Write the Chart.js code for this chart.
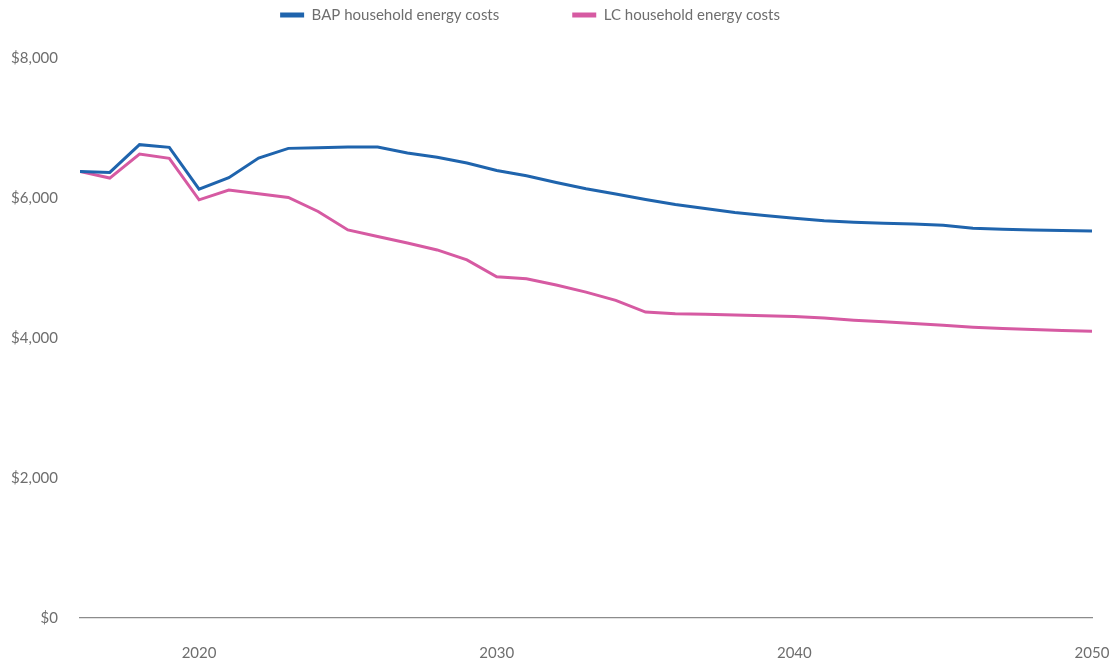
<!DOCTYPE html>
<html><head><meta charset="utf-8">
<script src="https://cdn.jsdelivr.net/npm/chart.js@4"></script>
<style>html,body{margin:0;padding:0;background:#fff;overflow:hidden;}</style>
</head><body>
<canvas id="c" width="1114" height="661"></canvas>
<script>
const years = [2016,2017,2018,2019,2020,2021,2022,2023,2024,2025,2026,2027,2028,2029,2030,2031,2032,2033,2034,2035,2036,2037,2038,2039,2040,2041,2042,2043,2044,2045,2046,2047,2048,2049,2050];
const bapCosts = [6380,6366,6762,6724,6127,6289,6571,6709,6719,6729,6729,6643,6583,6500,6394,6318,6222,6132,6056,5979,5907,5850,5793,5750,5712,5675,5654,5640,5630,5611,5568,5554,5544,5535,5530];
const lcCosts = [6380,6285,6629,6566,5974,6113,6060,6007,5807,5544,5450,5358,5258,5115,4875,4847,4756,4656,4537,4370,4345,4341,4327,4317,4308,4285,4255,4231,4207,4183,4155,4136,4122,4107,4097];
const xTickValues = [2020,2030,2040,2050];
const yTickValues = [0,2000,4000,6000,8000];
const seriesNames = ['BAP household energy costs','LC household energy costs'];

Chart.defaults.font.family = 'Lato, "Open Sans", sans-serif';
Chart.defaults.font.size = 15;
Chart.defaults.color = '#6e6e6e';

const LEG_PAD = 73;
const legendPatch = {
  id: 'legendPatch',
  beforeUpdate(chart) {
    const lg = chart.legend;
    if (lg && !lg._patched) {
      lg._patched = true;
      const proto = Object.getPrototypeOf(lg);
      lg.fit = function() { proto.fit.call(this); this.height = 58; };
    }
  },
  afterLayout(chart) {
    const lg = chart.legend;
    if (!lg) return;
    lg.left = -27; lg.right = 1087;
    lg.top = 7.5 - LEG_PAD;
  }
};

new Chart(document.getElementById('c'), {
  type: 'line',
  data: {
    datasets: [
      { label: seriesNames[0], data: years.map((y,i)=>({x:y,y:bapCosts[i]})), borderColor: '#1f64ad', backgroundColor: '#1f64ad', borderWidth: 3, pointRadius: 0, tension: 0 },
      { label: seriesNames[1], data: years.map((y,i)=>({x:y,y:lcCosts[i]})), borderColor: '#d65aa2', backgroundColor: '#d65aa2', borderWidth: 3, pointRadius: 0, tension: 0 }
    ]
  },
  options: {
    responsive: false,
    animation: false,
    layout: { padding: { left: 0, right: 22, top: 0, bottom: 0 } },
    plugins: {
      legend: {
        position: 'top',
        labels: {
          boxWidth: 24, boxHeight: 5, padding: LEG_PAD, color: '#6e6e6e', font: { size: 15 },
          generateLabels: chart => Chart.defaults.plugins.legend.labels.generateLabels(chart).map(l => Object.assign(l, { lineWidth: 0 }))
        }
      },
      tooltip: { enabled: false }
    },
    scales: {
      x: {
        type: 'linear', min: 2016, max: 2050,
        grid: { display: false, drawTicks: false },
        border: { display: true, color: '#8c8c8c', width: 1.2 },
        afterBuildTicks: a => { a.ticks = xTickValues.map(v => ({ value: v })); },
        afterFit: a => { a.height = 43; a.paddingLeft = 0; a.paddingRight = 0; },
        ticks: { padding: 26, maxRotation: 0, callback: v => String(v) }
      },
      y: {
        min: 0, max: 8000,
        grid: { display: false, drawTicks: false },
        border: { display: false },
        afterBuildTicks: a => { a.ticks = yTickValues.map(v => ({ value: v })); },
        afterFit: a => { a.width = 80; },
        ticks: { padding: 22, callback: v => '$' + v.toLocaleString('en-US') }
      }
    }
  },
  plugins: [legendPatch]
});
</script>
</body></html>
